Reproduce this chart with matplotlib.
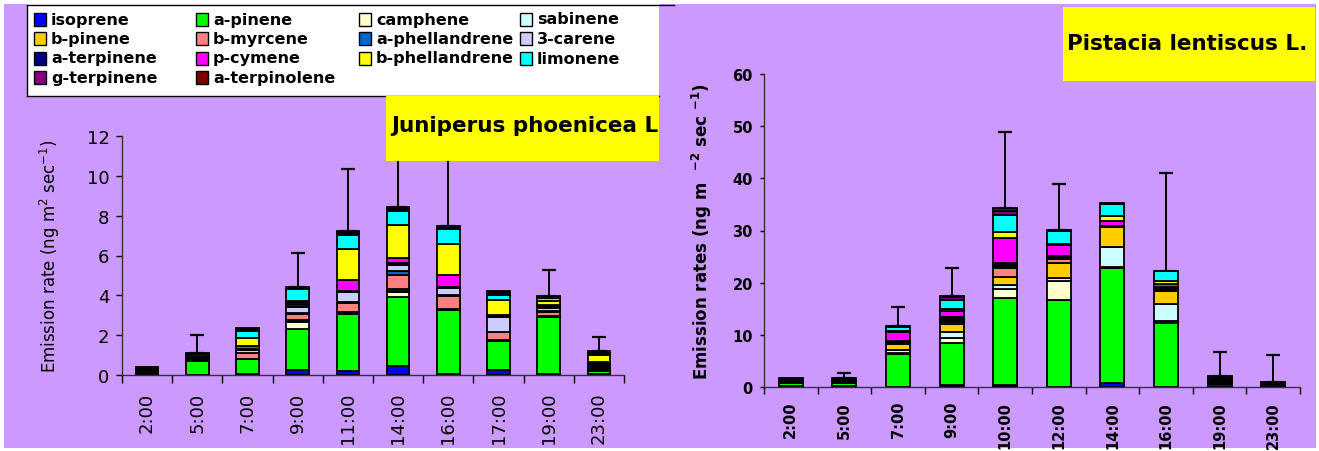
import numpy as np
import matplotlib
matplotlib.use("Agg")
import matplotlib.pyplot as plt
from matplotlib.patches import Rectangle
from matplotlib.lines import Line2D

# compounds, in stacking / legend order
species = ['isoprene', 'a-pinene', 'camphene', 'sabinene',
           'b-pinene', 'b-myrcene', 'a-phellandrene', '3-carene',
           'a-terpinene', 'p-cymene', 'b-phellandrene', 'limonene',
           'g-terpinene', 'a-terpinolene']
colors = ['#0000FF', '#00FF00', '#FFFFCC', '#CCFFFF',
          '#FFCC00', '#FF8080', '#0066CC', '#CCCCFF',
          '#000080', '#FF00FF', '#FFFF00', '#00FFFF',
          '#800080', '#800000']

# Juniperus phoenicea L (ng m-2 sec-1)
jun_hours = ['2:00', '5:00', '7:00', '9:00', '11:00', '14:00', '16:00', '17:00', '19:00', '23:00']
jun_isoprene       = [0.02, 0.02, 0.03, 0.27, 0.18, 0.44, 0.05, 0.27, 0.05, 0.05]
jun_a_pinene       = [0.05, 0.70, 0.75, 2.05, 2.90, 3.50, 3.20, 1.45, 2.85, 0.15]
jun_camphene       = [0.03, 0.03, 0.02, 0.33, 0.03, 0.25, 0.03, 0.02, 0.03, 0.05]
jun_sabinene       = [0.02, 0.02, 0.00, 0.05, 0.02, 0.05, 0.02, 0.02, 0.02, 0.05]
jun_b_pinene       = [0.05, 0.04, 0.02, 0.04, 0.02, 0.06, 0.03, 0.02, 0.02, 0.05]
jun_b_myrcene      = [0.05, 0.03, 0.28, 0.32, 0.45, 0.72, 0.65, 0.38, 0.18, 0.06]
jun_a_phellandrene = [0.02, 0.02, 0.02, 0.04, 0.08, 0.20, 0.03, 0.02, 0.04, 0.05]
jun_3_carene       = [0.02, 0.02, 0.13, 0.30, 0.50, 0.30, 0.36, 0.75, 0.18, 0.06]
jun_a_terpinene    = [0.04, 0.03, 0.05, 0.15, 0.06, 0.10, 0.05, 0.04, 0.08, 0.06]
jun_p_cymene       = [0.02, 0.02, 0.14, 0.10, 0.55, 0.24, 0.58, 0.03, 0.06, 0.05]
jun_b_phellandrene = [0.02, 0.02, 0.42, 0.05, 1.55, 1.65, 1.60, 0.78, 0.22, 0.37]
jun_limonene       = [0.02, 0.10, 0.34, 0.63, 0.68, 0.70, 0.75, 0.24, 0.15, 0.06]
jun_g_terpinene    = [0.02, 0.02, 0.07, 0.04, 0.10, 0.10, 0.06, 0.08, 0.05, 0.07]
jun_a_terpinolene  = [0.02, 0.02, 0.08, 0.04, 0.10, 0.12, 0.06, 0.14, 0.05, 0.07]
jun_sd             = [0.00, 0.91, 0.00, 1.74, 3.13, 3.60, 4.50, 0.00, 1.27, 0.72]

# Pistacia lentiscus L.
pis_hours = ['2:00', '5:00', '7:00', '9:00', '10:00', '12:00', '14:00', '16:00', '19:00', '23:00']
pis_isoprene       = [0.10, 0.10, 0.05, 0.30, 0.40, 0.05, 0.70, 0.05, 0.60, 0.10]
pis_a_pinene       = [0.60, 0.60, 6.25, 8.10, 16.70, 16.70, 22.20, 12.25, 0.10, 0.50]
pis_camphene       = [0.05, 0.05, 0.30, 1.00, 1.75, 3.60, 0.05, 0.40, 0.10, 0.05]
pis_sabinene       = [0.05, 0.05, 0.40, 1.05, 0.65, 0.60, 3.80, 3.30, 0.10, 0.05]
pis_b_pinene       = [0.10, 0.25, 1.20, 1.70, 1.55, 2.90, 4.00, 2.35, 0.10, 0.05]
pis_b_myrcene      = [0.10, 0.10, 0.20, 0.35, 1.75, 0.70, 0.08, 0.30, 0.10, 0.05]
pis_a_phellandrene = [0.10, 0.05, 0.15, 0.30, 0.30, 0.20, 0.04, 0.20, 0.10, 0.03]
pis_3_carene       = [0.05, 0.05, 0.15, 0.30, 0.30, 0.20, 0.04, 0.15, 0.10, 0.03]
pis_a_terpinene    = [0.10, 0.10, 0.20, 0.40, 0.45, 0.20, 0.04, 0.25, 0.15, 0.03]
pis_p_cymene       = [0.10, 0.10, 1.60, 1.00, 4.80, 2.00, 0.95, 0.50, 0.15, 0.03]
pis_b_phellandrene = [0.05, 0.10, 0.15, 0.50, 1.00, 0.25, 0.85, 0.65, 0.10, 0.03]
pis_limonene       = [0.20, 0.10, 0.85, 1.75, 3.40, 2.60, 2.35, 1.75, 0.15, 0.05]
pis_g_terpinene    = [0.06, 0.03, 0.10, 0.45, 0.75, 0.05, 0.05, 0.10, 0.15, 0.02]
pis_a_terpinolene  = [0.06, 0.04, 0.10, 0.25, 0.45, 0.05, 0.05, 0.05, 0.10, 0.02]
pis_sd             = [0.00, 0.96, 3.60, 5.45, 14.65, 8.90, 0.00, 18.70, 4.70, 5.06]

jun_stack = [jun_isoprene, jun_a_pinene, jun_camphene, jun_sabinene, jun_b_pinene,
             jun_b_myrcene, jun_a_phellandrene, jun_3_carene, jun_a_terpinene,
             jun_p_cymene, jun_b_phellandrene, jun_limonene, jun_g_terpinene,
             jun_a_terpinolene]
pis_stack = [pis_isoprene, pis_a_pinene, pis_camphene, pis_sabinene, pis_b_pinene,
             pis_b_myrcene, pis_a_phellandrene, pis_3_carene, pis_a_terpinene,
             pis_p_cymene, pis_b_phellandrene, pis_limonene, pis_g_terpinene,
             pis_a_terpinolene]

purple = '#CC99FF'
W, H = 1319, 452


def fx(px):
    return px / W


def fy(py):
    return 1 - py / H


def box(x0, y0, x1, y1, **kw):
    return Rectangle((fx(x0), fy(y1)), (x1 - x0) / W, (y1 - y0) / H,
                     transform=fig.transFigure, **kw)


def draw_stack(ax, stack, sd, hours, bold):
    x = np.arange(len(hours))
    bottom = np.zeros(len(x))
    for vals, c in zip(stack, colors):
        ax.bar(x, vals, width=0.45, bottom=bottom, color=c,
               edgecolor='black', linewidth=1.3, zorder=3)
        bottom += np.array(vals)
    sd = np.array(sd)
    has = sd > 0
    ax.errorbar(x[has], bottom[has], yerr=[np.zeros(has.sum()), sd[has]],
                fmt='none', ecolor='black', elinewidth=1.4, capsize=5,
                capthick=1.6, zorder=2)
    ax.set_xlim(-0.5, len(x) - 0.5)
    ax.set_xticks(x)
    ax.set_xticklabels(hours, rotation=90)
    ax.set_xticks(np.arange(-0.5, len(x), 1), minor=True)
    ax.set_facecolor('none')
    for s in ['top', 'right']:
        ax.spines[s].set_visible(False)
    for s in ['left', 'bottom']:
        ax.spines[s].set_color('#333333')
        ax.spines[s].set_linewidth(1.0)
    if bold:
        for lab in ax.get_xticklabels() + ax.get_yticklabels():
            lab.set_fontweight('bold')


fig = plt.figure(figsize=(W / 100, H / 100), dpi=100)
fig.patch.set_facecolor('white')

# purple panel background
fig.add_artist(box(4, 5, 1316, 449, facecolor=purple, edgecolor='none', zorder=-10))

# legend block
fig.add_artist(box(27, 5.5, 659, 97, facecolor='white', edgecolor='none', zorder=-5))
fig.add_artist(Line2D([fx(27), fx(674)], [fy(5.5), fy(5.5)], transform=fig.transFigure, color='black', lw=1))
fig.add_artist(Line2D([fx(27), fx(27)], [fy(5.5), fy(97)], transform=fig.transFigure, color='black', lw=1))
fig.add_artist(Line2D([fx(27), fx(659)], [fy(97), fy(97)], transform=fig.transFigure, color='black', lw=1))
col_x = [34, 196, 359, 520]
row_y = [20, 39.5, 59, 78.5]
for k, (name, c) in enumerate(zip(species, colors)):
    r, col = divmod(k, 4)
    fig.add_artist(box(col_x[col], row_y[r] - 6.5, col_x[col] + 12, row_y[r] + 6.5,
                       facecolor=c, edgecolor='black', lw=1, zorder=2))
    fig.text(fx(col_x[col] + 17), fy(row_y[r]), name, ha='left', va='center',
             fontsize=11.5, fontweight='bold')

# Juniperus
ax1 = fig.add_axes([fx(122), fy(376), (624 - 122) / W, (376 - 137) / H])
ax1.set_ylim(0, 12)
ax1.set_yticks(range(0, 13, 2))
draw_stack(ax1, jun_stack, jun_sd, jun_hours, bold=False)
ax1.tick_params(axis='y', direction='out', length=4, width=1, pad=5, labelsize=13)
ax1.tick_params(axis='x', which='major', length=0, pad=12, labelsize=13)
ax1.tick_params(axis='x', which='minor', length=6, width=1, direction='out')
ax1.set_ylabel(r'Emission rate (ng m$^{2}$ sec$^{-1}$)', fontsize=12)
ax1.yaxis.set_label_coords((62 - 122) / (624 - 122), 0.5)

# Pistacia
ax2 = fig.add_axes([fx(764), fy(388), (1300 - 764) / W, (388 - 75) / H])
ax2.set_ylim(0, 60)
ax2.set_yticks(range(0, 61, 10))
draw_stack(ax2, pis_stack, pis_sd, pis_hours, bold=True)
ax2.tick_params(axis='y', direction='out', length=3, width=1, pad=5, labelsize=10.5)
ax2.tick_params(axis='x', which='major', length=0, pad=10, labelsize=10.5)
ax2.tick_params(axis='x', which='minor', length=5, width=1, direction='out')
ax2.set_ylabel(r'Emission rates (ng m  $^{\mathbf{-2}}$ sec $^{\mathbf{-1}}$)',
               fontsize=12, fontweight='bold')
ax2.yaxis.set_label_coords((714 - 764) / (1300 - 764), 0.5)

# species title boxes
fig.add_artist(box(386, 97, 659, 162, facecolor='#FFFF00', edgecolor='none', zorder=4))
fig.text(fx(391), fy(132), 'Juniperus phoenicea L', ha='left', va='baseline',
         fontsize=15.5, fontweight='bold', zorder=5)
fig.add_artist(box(1063, 8, 1315, 82, facecolor='#FFFF00', edgecolor='none', zorder=4))
fig.text(fx(1067), fy(50), 'Pistacia lentiscus L.', ha='left', va='baseline',
         fontsize=15.5, fontweight='bold', zorder=5)

fig.savefig('out.png', dpi=100, facecolor=fig.get_facecolor())
